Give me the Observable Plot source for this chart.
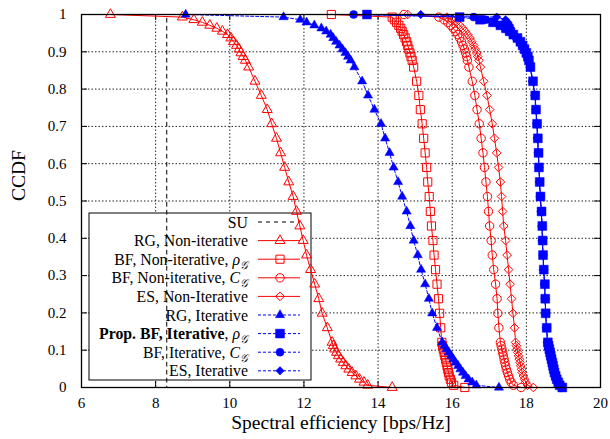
<!DOCTYPE html>
<html><head><meta charset="utf-8">
<script src="https://cdn.jsdelivr.net/npm/d3@7"></script>
<script src="https://cdn.jsdelivr.net/npm/@observablehq/plot@0.6"></script>
<style>body{margin:0;background:#fff} svg{display:block}</style>
</head><body><div id="chart"></div>
<script>
// CCDF levels shared by all curves (first = 1, last = 0)
const ccdfLevels = [1,
  0.993, 0.986, 0.979, 0.971, 0.963, 0.955, 0.946, 0.937, 0.927, 0.917, 0.907, 0.897, 0.887, 0.877,
  0.859, 0.821, 0.783, 0.745, 0.707, 0.668, 0.629, 0.590, 0.551, 0.512, 0.472, 0.433, 0.394, 0.355, 0.316, 0.277, 0.238, 0.199, 0.160,
  0.121, 0.112, 0.103, 0.094, 0.085, 0.076, 0.067, 0.058, 0.049, 0.040, 0.031, 0.022, 0.014, 0.006,
  0];

const suX = [8.3, 8.3];
const suP = [0.99, 0];

const rgNonIterX = [6.78,
  8.72, 9.03, 9.26, 9.46, 9.65, 9.80, 9.94, 10.03, 10.10, 10.18, 10.25, 10.30, 10.36, 10.42,
  10.51, 10.68, 10.85, 11.01, 11.13, 11.26, 11.37, 11.48, 11.59, 11.71, 11.80, 11.89, 11.98, 12.07, 12.18, 12.29, 12.40, 12.49, 12.63,
  12.76, 12.79, 12.83, 12.88, 12.93, 12.99, 13.06, 13.13, 13.21, 13.30, 13.40, 13.50, 13.62, 13.72,
  14.38];

const bfNonIterRhoX = [12.74,
  14.38, 14.44, 14.50, 14.56, 14.61, 14.65, 14.69, 14.73, 14.77, 14.80, 14.83, 14.86, 14.89, 14.92,
  14.96, 15.04, 15.10, 15.14, 15.19, 15.23, 15.27, 15.31, 15.34, 15.38, 15.41, 15.44, 15.48, 15.51, 15.55, 15.59, 15.63, 15.66, 15.69,
  15.72, 15.74, 15.76, 15.78, 15.80, 15.82, 15.84, 15.86, 15.88, 15.90, 15.92, 15.95, 15.98, 16.04,
  16.34];

const bfNonIterCX = [14.70,
  15.64, 15.78, 15.88, 15.96, 16.03, 16.09, 16.15, 16.20, 16.25, 16.29, 16.33, 16.36, 16.39, 16.41,
  16.45, 16.54, 16.61, 16.67, 16.73, 16.78, 16.83, 16.87, 16.91, 16.95, 16.98, 17.01, 17.05, 17.08, 17.12, 17.17, 17.21, 17.23, 17.26,
  17.30, 17.32, 17.34, 17.36, 17.38, 17.40, 17.42, 17.44, 17.46, 17.49, 17.52, 17.55, 17.59, 17.65,
  17.86];

const esNonIterX = [14.80,
  15.86, 16.00, 16.11, 16.20, 16.28, 16.35, 16.42, 16.48, 16.53, 16.58, 16.62, 16.66, 16.69, 16.72,
  16.76, 16.85, 16.94, 17.01, 17.08, 17.14, 17.20, 17.25, 17.30, 17.33, 17.36, 17.39, 17.44, 17.48, 17.52, 17.56, 17.60, 17.64, 17.68,
  17.71, 17.73, 17.75, 17.77, 17.79, 17.81, 17.83, 17.85, 17.87, 17.89, 17.92, 17.95, 17.98, 18.03,
  18.19];

const rgIterX = [8.81,
  11.45, 11.90, 12.07, 12.28, 12.47, 12.60, 12.72, 12.79, 12.87, 12.96, 13.04, 13.12, 13.19, 13.26,
  13.36, 13.57, 13.73, 13.90, 14.08, 14.19, 14.31, 14.42, 14.54, 14.65, 14.77, 14.87, 14.96, 15.07, 15.16, 15.27, 15.37, 15.46, 15.59,
  15.73, 15.79, 15.85, 15.91, 15.97, 16.03, 16.09, 16.16, 16.22, 16.29, 16.36, 16.44, 16.54, 16.65,
  17.26];

const propBfIterX = [13.70,
  16.20, 16.75, 17.10, 17.30, 17.45, 17.55, 17.65, 17.76, 17.84, 17.90, 17.95, 18.00, 18.04, 18.07,
  18.11, 18.18, 18.24, 18.26, 18.29, 18.31, 18.33, 18.34, 18.36, 18.38, 18.41, 18.43, 18.44, 18.45, 18.47, 18.50, 18.51, 18.52, 18.55,
  18.58, 18.60, 18.62, 18.64, 18.66, 18.68, 18.70, 18.72, 18.74, 18.76, 18.79, 18.82, 18.86, 18.90,
  18.97];

const bfIterCX = [13.34,
  16.58, 16.90, 17.12, 17.28, 17.42, 17.53, 17.63, 17.73, 17.82, 17.88, 17.94, 17.99, 18.03, 18.06,
  18.10, 18.17, 18.23, 18.26, 18.28, 18.30, 18.32, 18.34, 18.36, 18.38, 18.40, 18.42, 18.43, 18.45, 18.47, 18.49, 18.51, 18.52, 18.54,
  18.57, 18.59, 18.61, 18.63, 18.65, 18.67, 18.69, 18.71, 18.73, 18.75, 18.78, 18.81, 18.85, 18.89,
  18.95];

const esIterX = [15.15,
  17.20, 17.44, 17.50, 17.55, 17.58, 17.62, 17.68, 17.76, 17.83, 17.89, 17.94, 17.99, 18.03, 18.06,
  18.10, 18.17, 18.23, 18.25, 18.28, 18.30, 18.32, 18.34, 18.35, 18.37, 18.40, 18.42, 18.43, 18.45, 18.46, 18.49, 18.50, 18.52, 18.54,
  18.57, 18.59, 18.61, 18.63, 18.65, 18.67, 18.69, 18.71, 18.73, 18.75, 18.78, 18.81, 18.85, 18.89,
  18.95];

const xTicks = [6, 8, 10, 12, 14, 16, 18, 20];
const yTicks = [0, 0.1, 0.2, 0.3, 0.4, 0.5, 0.6, 0.7, 0.8, 0.9, 1];

const legendLabels = [
  [{t: "SU"}],
  [{t: "RG, Non-iterative"}],
  [{t: "BF, Non-iterative, "}, {t: "ρ", i: true}, {t: "𝒢", sub: true}],
  [{t: "BF, Non-iterative, "}, {t: "C", i: true}, {t: "𝒢", sub: true}],
  [{t: "ES, Non-Iterative"}],
  [{t: "RG, Iterative"}],
  [{t: "Prop. BF, Iterative", b: true}, {t: ", "}, {t: "ρ", i: true}, {t: "𝒢", sub: true}],
  [{t: "BF, Iterative, "}, {t: "C", i: true}, {t: "𝒢", sub: true}],
  [{t: "ES, Iterative"}]
];

const toRows = (xs, ps) => xs.map((x, i) => ({x, p: ps[i]}));
const RED = "#ff0000", BLUE = "#0000ff";

// style per series (legend order)
const styles = [
  {rows: toRows(suX, suP), color: "black", dash: "4,4", symbol: null},
  {rows: toRows(rgNonIterX, ccdfLevels), color: RED, dash: null, symbol: "triangle", r: 3.7, filled: false},
  {rows: toRows(bfNonIterRhoX, ccdfLevels), color: RED, dash: null, symbol: "square", r: 4.6, filled: false},
  {rows: toRows(bfNonIterCX, ccdfLevels), color: RED, dash: null, symbol: "circle", r: 4.2, filled: false},
  {rows: toRows(esNonIterX, ccdfLevels), color: RED, dash: null, symbol: "diamond2", r: 3.9, filled: false},
  {rows: toRows(rgIterX, ccdfLevels), color: BLUE, dash: "3,2", symbol: "triangle", r: 3.4, filled: true},
  {rows: toRows(propBfIterX, ccdfLevels), color: BLUE, dash: "3,2", symbol: "square", r: 5.0, filled: true},
  {rows: toRows(bfIterCX, ccdfLevels), color: BLUE, dash: "3,2", symbol: "circle", r: 4.0, filled: true},
  {rows: toRows(esIterX, ccdfLevels), color: BLUE, dash: "3,2", symbol: "diamond2", r: 3.8, filled: true}
];

// draw order: squares of the proposed scheme last
const drawOrder = [0, 1, 2, 3, 4, 5, 7, 8, 6];
const dataMarks = [];
for (const k of drawOrder) {
  const s = styles[k];
  dataMarks.push(Plot.line(s.rows, {x: "x", y: "p", stroke: s.color, strokeWidth: 1, strokeDasharray: s.dash,
    ariaDescription: k === 0 ? "su" : "series"}));
  if (s.symbol) {
    dataMarks.push(Plot.dot(s.rows, {x: "x", y: "p", symbol: s.symbol, r: s.r,
      fill: s.filled ? s.color : "none", stroke: s.color, strokeWidth: s.filled ? 0.5 : 1}));
  }
}

const FONT = "'Liberation Serif', 'Times New Roman', serif";
const plot = Plot.plot({
  width: 610, height: 439,
  marginLeft: 81, marginRight: 10, marginTop: 14, marginBottom: 52,
  style: {fontFamily: FONT, fontSize: "15px", background: "white", color: "black", overflow: "visible"},
  x: {domain: [6, 20], label: null},
  y: {domain: [0, 1], label: null},
  marks: [
    Plot.gridX(xTicks.slice(1, -1), {stroke: "black", strokeOpacity: 0.85, strokeDasharray: "1.5,2", strokeWidth: 1}),
    Plot.gridY(yTicks.slice(1, -1), {stroke: "black", strokeOpacity: 0.85, strokeDasharray: "1.5,2", strokeWidth: 1}),
    Plot.tickX(xTicks, {x: d => d, insetTop: 367, stroke: "black"}),
    Plot.tickX(xTicks, {x: d => d, insetBottom: 367, stroke: "black"}),
    Plot.tickY(yTicks, {y: d => d, insetRight: 513, stroke: "black"}),
    Plot.tickY(yTicks, {y: d => d, insetLeft: 513, stroke: "black"}),
    Plot.axisX(xTicks, {anchor: "bottom", tickSize: 0, tickPadding: 10, fontSize: 15, label: null}),
    Plot.axisY(yTicks, {anchor: "left", tickSize: 0, tickPadding: 15, fontSize: 15, label: null,
      tickFormat: d => d === 0 ? "0" : d === 1 ? "1" : d.toFixed(1)}),
    Plot.text(["Spectral efficiency [bps/Hz]"], {frameAnchor: "bottom", dy: 41, fontSize: 19.5}),
    Plot.text(["CCDF"], {frameAnchor: "left", dx: -63, rotate: -90, fontSize: 19.5}),
    ...dataMarks,
    Plot.frame({stroke: "black", strokeWidth: 1.3})
  ]
});
document.getElementById("chart").append(plot);

// Legend box (opaque, below the curves)
const svg = d3.select(plot);
const lg = svg.insert("g", 'g[aria-description="su"]').attr("class", "legend");
lg.append("rect").attr("x", 89).attr("y", 213).attr("width", 222).attr("height", 167)
  .attr("fill", "white").attr("stroke", "black").attr("stroke-width", 1);
const symMap = {triangle: d3.symbolTriangle, square: d3.symbolSquare, circle: d3.symbolCircle, diamond2: d3.symbolDiamond2};
legendLabels.forEach((parts, i) => {
  const y = 222 + i * 18.6;
  const s = styles[i];
  const t = lg.append("text").attr("x", 248).attr("y", y).attr("dy", "0.35em")
    .attr("text-anchor", "end").attr("font-family", FONT).attr("font-size", 15.8).attr("fill", "black");
  parts.forEach(p => {
    const ts = t.append("tspan").text(p.t);
    if (p.i) ts.attr("font-style", "italic");
    if (p.b) ts.attr("font-weight", "bold");
    if (p.sub) ts.attr("font-size", 11).attr("dy", 4).attr("font-style", "italic");
  });
  lg.append("line").attr("x1", 258).attr("x2", 300).attr("y1", y).attr("y2", y)
    .attr("stroke", s.color).attr("stroke-width", 1).attr("stroke-dasharray", s.dash);
  if (s.symbol) {
    lg.append("path").attr("transform", `translate(280,${y})`)
      .attr("d", d3.symbol(symMap[s.symbol], Math.PI * s.r * s.r)())
      .attr("fill", s.filled ? s.color : "none").attr("stroke", s.color).attr("stroke-width", s.filled ? 0.5 : 1);
  }
});
</script></body></html>
